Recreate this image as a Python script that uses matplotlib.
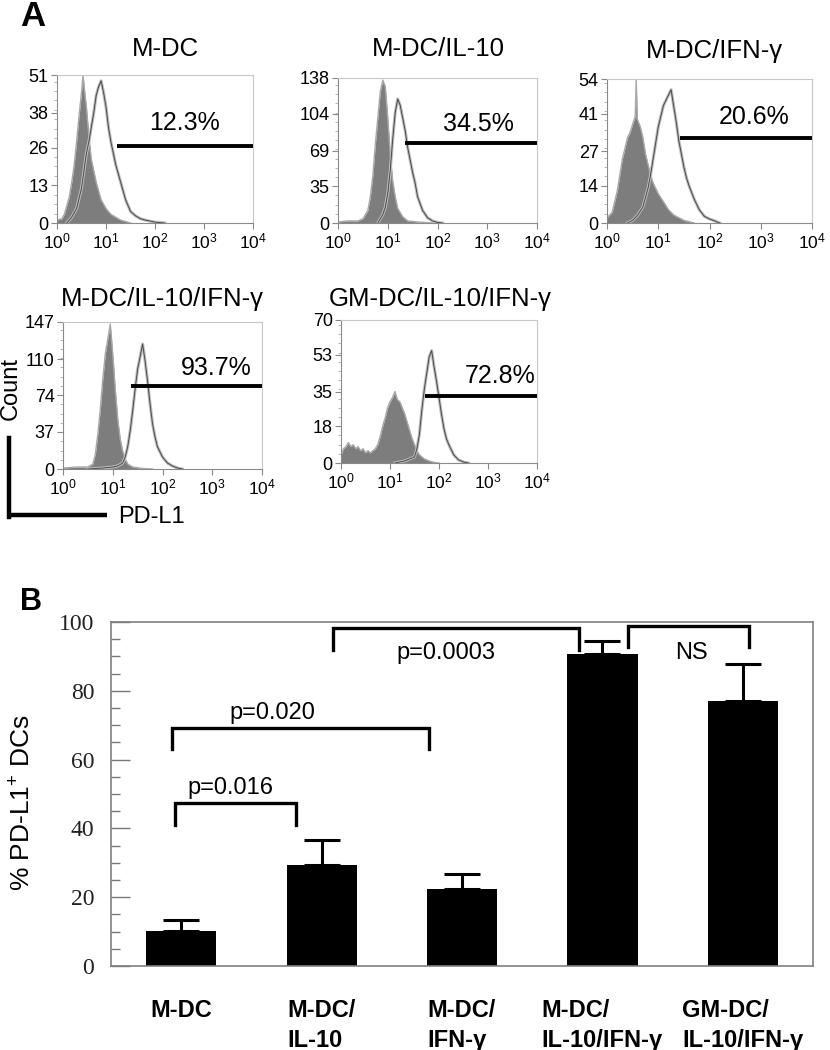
import numpy as np
import matplotlib.pyplot as plt
from matplotlib.lines import Line2D
from matplotlib.ticker import LogLocator, NullFormatter, MultipleLocator

plt.rcParams['font.family'] = ['Liberation Sans', 'DejaVu Sans']
plt.rcParams['mathtext.fontset'] = 'custom'
plt.rcParams['mathtext.rm'] = 'Liberation Sans'
plt.rcParams['mathtext.it'] = 'Liberation Sans'

# ---- panel A data (log10 intensity, count) ----
hist_titles = ['M-DC', 'M-DC/IL-10', 'M-DC/IFN-γ', 'M-DC/IL-10/IFN-γ', 'GM-DC/IL-10/IFN-γ']
hist_yticks = [[0, 13, 26, 38, 51], [0, 35, 69, 104, 138], [0, 14, 27, 41, 54],
               [0, 37, 74, 110, 147], [0, 18, 35, 53, 70]]
gate_pct = ['12.3%', '34.5%', '20.6%', '93.7%', '72.8%']
gate_start = [1.22, 1.34, 1.42, 1.37, 1.72]
gate_y = [26.6, 75.8, 32.0, 82.8, 32.8]

iso_log = [
    [0.0, 0.1, 0.15, 0.2, 0.25, 0.3, 0.35, 0.4, 0.45, 0.5, 0.53, 0.56, 0.6, 0.65, 0.7, 0.75, 0.8, 0.9, 1.0, 1.1, 1.2, 1.3, 1.5],
    [0.0, 0.2, 0.4, 0.5, 0.6, 0.65, 0.7, 0.75, 0.8, 0.85, 0.9, 0.95, 1.0, 1.05, 1.1, 1.15, 1.2, 1.3, 1.4, 1.6, 1.9],
    [0.0, 0.1, 0.15, 0.2, 0.25, 0.3, 0.35, 0.4, 0.45, 0.5, 0.55, 0.57, 0.59, 0.65, 0.7, 0.75, 0.8, 0.85, 0.9, 1.0, 1.1, 1.2, 1.3, 1.4, 1.5, 1.7],
    [0.0, 0.3, 0.5, 0.6, 0.65, 0.7, 0.75, 0.8, 0.85, 0.9, 0.95, 1.0, 1.05, 1.1, 1.15, 1.2, 1.25, 1.3, 1.4, 1.6, 1.8],
    [0.0, 0.05, 0.1, 0.15, 0.2, 0.25, 0.3, 0.35, 0.4, 0.45, 0.5, 0.55, 0.6, 0.65, 0.7, 0.75, 0.8, 0.85, 0.9, 0.95,
     1.0, 1.05, 1.1, 1.15, 1.2, 1.25, 1.3, 1.35, 1.4, 1.45, 1.5, 1.55, 1.6, 1.7, 1.8, 1.9, 2.0],
]
iso_count = [
    [1, 1.5, 3, 6, 9, 14, 20, 28, 37, 45, 51, 46, 40, 30, 22, 18, 14, 8, 5, 3, 2, 1, 0],
    [1, 2, 2, 4, 12, 25, 45, 75, 100, 125, 136, 130, 100, 65, 40, 25, 14, 6, 2, 1, 0],
    [2, 4, 8, 12, 18, 24, 28, 32, 34, 37, 40, 54, 39, 36, 32, 26, 22, 18, 15, 11, 8, 5, 3, 2, 1, 0],
    [1, 2, 2, 5, 15, 35, 60, 90, 115, 130, 145, 115, 80, 50, 30, 18, 10, 5, 2, 0.5, 0],
    [4, 7, 8, 10, 8, 9, 7, 8, 6, 7, 5, 6, 5, 6, 7, 9, 13, 18, 22, 27,
     30, 32, 35, 31, 30, 27, 24, 20, 16, 12, 9, 6, 4, 2, 1, 0.3, 0],
]
pos_log = [
    [0.2, 0.3, 0.4, 0.5, 0.55, 0.6, 0.65, 0.7, 0.75, 0.8, 0.85, 0.9, 0.95, 1.0, 1.05, 1.1, 1.15, 1.2, 1.3, 1.4, 1.5, 1.6, 1.7, 1.8, 2.0, 2.2],
    [0.8, 0.9, 0.95, 1.0, 1.05, 1.1, 1.15, 1.2, 1.25, 1.3, 1.35, 1.4, 1.45, 1.5, 1.55, 1.6, 1.7, 1.8, 1.9, 2.0, 2.1],
    [0.4, 0.5, 0.6, 0.7, 0.8, 0.85, 0.9, 0.95, 1.0, 1.05, 1.1, 1.15, 1.2, 1.25, 1.3, 1.35, 1.4, 1.45, 1.5, 1.55, 1.6, 1.7, 1.8, 1.9, 2.0, 2.1, 2.2],
    [0.5, 0.8, 1.0, 1.1, 1.2, 1.25, 1.3, 1.35, 1.4, 1.45, 1.5, 1.55, 1.6, 1.65, 1.7, 1.75, 1.8, 1.85, 1.9, 2.0, 2.1, 2.2, 2.3, 2.4],
    [1.1, 1.2, 1.3, 1.4, 1.5, 1.55, 1.6, 1.65, 1.7, 1.75, 1.8, 1.85, 1.9, 1.95, 2.0, 2.05, 2.1, 2.15, 2.2, 2.3, 2.4, 2.5, 2.6],
]
pos_count = [
    [0, 2, 5, 12, 18, 24, 28, 33, 38, 44, 47, 49, 45, 40, 33, 28, 24, 20, 14, 8, 4, 2.5, 1.5, 1, 0.3, 0],
    [0, 8, 15, 28, 50, 80, 105, 118, 112, 100, 88, 72, 60, 48, 38, 25, 12, 5, 2, 0.5, 0],
    [0, 1, 3, 6, 13, 18, 24, 30, 36, 40, 44, 46, 48, 50, 44, 38, 31, 26, 21, 17, 14, 9, 5, 2.5, 1.5, 0.8, 0],
    [0, 1, 2, 3, 6, 12, 22, 38, 58, 80, 100, 112, 125, 108, 88, 65, 45, 32, 22, 12, 6, 3, 1, 0],
    [0, 0.5, 1, 2, 3, 7, 14, 26, 36, 44, 52, 55, 47, 40, 32, 24, 17, 12, 9, 4, 1.5, 0.5, 0],
]

# ---- panel B data ----
groups = ['M-DC', 'M-DC/\nIL-10', 'M-DC/\nIFN-γ', 'M-DC/\nIL-10/IFN-γ', 'GM-DC/\nIL-10/IFN-γ']
pct_mean = [10.3, 29.4, 22.4, 90.6, 77.0]
pct_err = [3.1, 7.3, 4.4, 3.9, 10.8]
p_labels = ['p=0.016', 'p=0.020', 'p=0.0003', 'NS']

# ---- layout (pixels on a 830 x 1050 canvas) ----
W, H = 830, 1050


def rect(x0, y0, x1, y1):
    return [x0 / W, 1 - y1 / H, (x1 - x0) / W, (y1 - y0) / H]


hist_boxes = [(57, 75, 253, 223), (338, 78, 537, 223), (607, 79, 812, 223),
              (63, 322, 262, 469), (341, 320, 537, 463)]
title_pos = [(165, 49), (438, 49), (714, 51), (162, 299), (440, 299)]
pct_pos = [(2.61, 34.3), (2.82, 94), (2.87, 39.8), (3.08, 101), (3.25, 42.7)]

fig = plt.figure(figsize=(8.3, 10.5), dpi=100)

for i in range(5):
    ax = fig.add_axes(rect(*hist_boxes[i]))
    xi = 10 ** np.array(iso_log[i])
    xp = 10 ** np.array(pos_log[i])
    ax.fill_between(xi, iso_count[i], color='#7d7d7d', lw=0)
    ax.plot(xi, iso_count[i], color='#a8a8a8', lw=1)
    ax.plot(xp, pos_count[i], color='#bdbdbd', lw=2.2)
    ax.plot(xp, pos_count[i], color='#4a4a4a', lw=0.7)
    ax.plot([10 ** gate_start[i], 1e4], [gate_y[i], gate_y[i]], color='black', lw=2.8,
            solid_capstyle='butt', clip_on=False)
    ax.text(10 ** pct_pos[i][0], pct_pos[i][1], gate_pct[i], fontsize=18,
            ha='center', va='center')
    ax.set_xscale('log')
    ax.set_xlim(1, 1e4)
    ax.set_ylim(0, hist_yticks[i][-1])
    ax.set_xticks([1, 10, 100, 1000, 10000])
    ax.set_xticklabels([r'$10^{%d}$' % k for k in range(5)])
    ax.xaxis.set_minor_locator(LogLocator(base=10, subs=np.arange(2, 10)))
    ax.xaxis.set_minor_formatter(NullFormatter())
    ax.set_yticks(hist_yticks[i])
    step = hist_yticks[i][1] / 4
    ax.yaxis.set_minor_locator(MultipleLocator(step))
    ax.tick_params(axis='y', which='major', labelsize=13, length=4, width=0.8,
                   color='#888888', pad=2)
    ax.tick_params(axis='x', which='major', labelsize=12.5, length=4, width=0.8,
                   color='#888888', pad=2)
    ax.tick_params(axis='both', which='minor', length=2, width=0.6, color='#aaaaaa')
    for s in ['top', 'right']:
        ax.spines[s].set_color('#c8c8c8')
    for s in ['left', 'bottom']:
        ax.spines[s].set_color('#8a8a8a')
    fig.text(title_pos[i][0] / W, 1 - title_pos[i][1] / H, hist_titles[i],
             fontsize=18.5, ha='center', va='center')

# panel letters, count / PD-L1 scale
fig.text(20 / W, 1 - 16 / H, 'A', fontsize=25, fontweight='bold', va='center')
fig.text(20 / W, 1 - 602 / H, 'B', fontsize=22, fontweight='bold', va='center')
fig.text(11 / W, 1 - 388 / H, 'Count', fontsize=17, rotation=90, ha='center', va='center')
fig.add_artist(Line2D([9 / W, 9 / W], [1 - 438 / H, 1 - 517 / H], color='black', lw=3.2,
                      transform=fig.transFigure, solid_capstyle='projecting'))
fig.add_artist(Line2D([9 / W, 107 / W], [1 - 515 / H, 1 - 515 / H], color='black', lw=3.2,
                      transform=fig.transFigure, solid_capstyle='butt'))
fig.text(118 / W, 1 - 517 / H, 'PD-L1', fontsize=17, ha='left', va='center')

# ---- panel B ----
axb = fig.add_axes(rect(111, 622, 813, 966))
x = np.arange(len(groups))
axb.bar(x, pct_mean, width=0.5, color='black', zorder=2)
axb.errorbar(x, pct_mean, yerr=[np.zeros(len(x)), pct_err], fmt='none', ecolor='black',
             elinewidth=2.2, capsize=13, capthick=2.2, zorder=1)
axb.set_xlim(-0.5, 4.5)
axb.set_ylim(0, 100)
axb.yaxis.set_major_locator(MultipleLocator(20))
axb.yaxis.set_minor_locator(MultipleLocator(5))
axb.tick_params(axis='y', which='major', direction='in', length=14, width=1,
                color='#777777', labelsize=17, pad=12, labelcolor='#222222',
                labelfontfamily='Liberation Serif')
axb.tick_params(axis='y', which='minor', direction='in', length=6.5, width=1,
                color='#777777')
axb.set_xticks(x)
axb.set_xticklabels(groups, fontsize=17, fontweight='bold', multialignment='left',
                    va='top', linespacing=1.35)
axb.tick_params(axis='x', length=0, pad=24)
for s in axb.spines.values():
    s.set_color('#808080')
    s.set_linewidth(1.2)
axb.set_ylabel('% PD-L1$^{+}$ DCs', fontsize=19)
axb.yaxis.set_label_coords(-0.108, 0.474)

# significance brackets: (left, right, top, leg bottom), label position
brackets = [(-0.044, 0.818, 47.4, 41.0), (-0.066, 1.767, 69.2, 63.1),
            (1.081, 2.833, 98.3, 91.9), (3.182, 4.044, 98.8, 92.7)]
label_pos = [(0.349, 51.7), (0.649, 73.5), (1.887, 91.0), (3.631, 91.0)]
for (x0, x1, yt, yb), (tx, ty), lab in zip(brackets, label_pos, p_labels):
    axb.plot([x0, x0, x1, x1], [yb, yt, yt, yb], color='black', lw=2.4,
             solid_joinstyle='miter', clip_on=False)
    axb.text(tx, ty, lab, fontsize=17, ha='center', va='center')

fig.savefig('out.png', dpi=100)
